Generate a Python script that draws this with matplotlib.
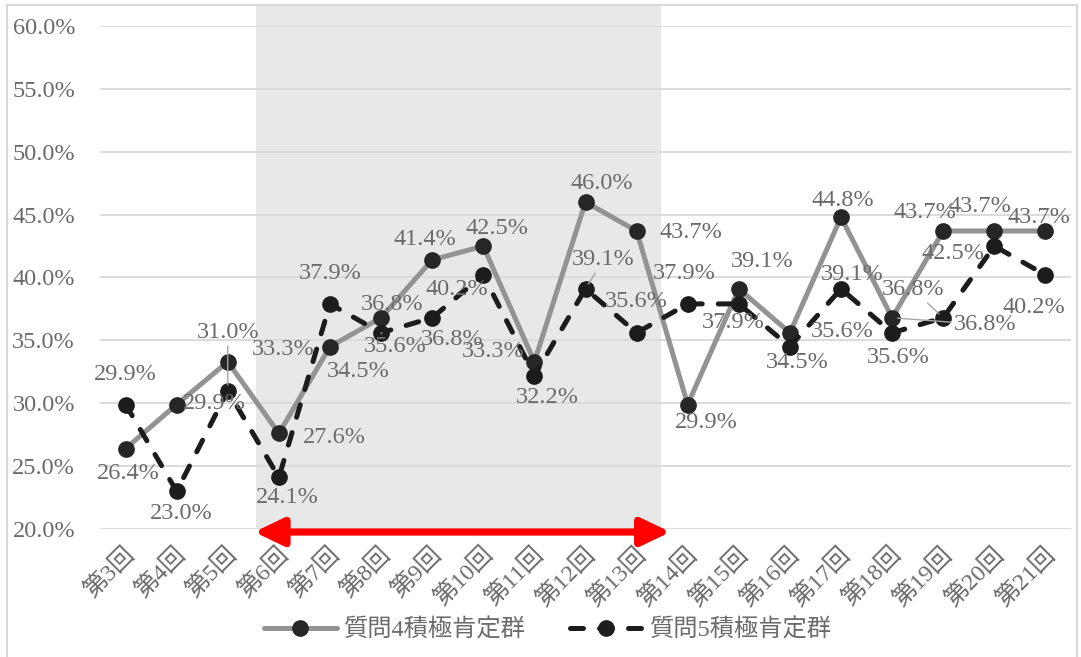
import numpy as np
import matplotlib.pyplot as plt
import matplotlib.transforms as mtransforms
from matplotlib.patches import Rectangle

plt.rcParams['font.family'] = ['Liberation Serif', 'Noto Sans CJK JP']

# Data
rounds = ["第3回", "第4回", "第5回", "第6回", "第7回", "第8回", "第9回",
          "第10回", "第11回", "第12回", "第13回", "第14回", "第15回",
          "第16回", "第17回", "第18回", "第19回", "第20回", "第21回"]
q4 = [26.4, 29.9, 33.3, 27.6, 34.5, 36.8, 41.4, 42.5, 33.3, 46.0,
      43.7, 29.9, 39.1, 35.6, 44.8, 36.8, 43.7, 43.7, 43.7]
q5 = [29.9, 23.0, 31.0, 24.1, 37.9, 35.6, 36.8, 40.2, 32.2, 39.1,
      35.6, 37.9, 37.9, 34.5, 39.1, 35.6, 36.8, 42.5, 40.2]
names = ["質問4積極肯定群", "質問5積極肯定群"]

# label offsets in pixels (dx, dy)
q4_off = [(3, -25), (38, 1), (55, 12), (56, -4), (28, -25), (11, 13),
          (-7, 20), (14, 18), (-41, 10), (16, 19), (54, -2), (19, -18),
          (23, 27), (52, 1), (2, 17), (93, -7), (-18, 18), (-14, 24),
          (-7, 13)]
q5_off = [(0, 30), (5, -22), (0, 58), (8, -20), (0, 30), (14, -14),
          (20, -22), (-26, -15), (13, -22), (18, 29), (0, 31), (-3, 30),
          (-6, -19), (7, -16), (11, 14), (6, -25), (-30, 28), (-41, -7),
          (-12, -33)]
q4_leader = {15}
q5_leader = {2, 5, 9, 16}

TXT = "#6b6b6b"
FS = 17.5
x = np.arange(len(rounds))

fig = plt.figure(figsize=(10.81, 6.57), dpi=100)
ax = fig.add_axes([100 / 1081, 128 / 657, 971 / 1081, 503 / 657])

# shaded period and arrow
trans = mtransforms.blended_transform_factory(ax.transData, ax.transAxes)
ax.add_patch(Rectangle((2.55, 0), 10.48 - 2.55, 524 / 503, transform=trans,
                       facecolor="#e7e8e8", edgecolor="none", zorder=0,
                       clip_on=False))

ax.plot(x, q4, color="#939393", lw=3.6, marker="o", ms=11,
        mfc="#262626", mec="#262626", zorder=3, solid_capstyle="round",
        label=names[0])
ax.plot(x, q5, color="#1c1c1c", lw=3.6, marker="o", ms=11,
        mfc="#1c1c1c", mec="#1c1c1c", zorder=4, dashes=(2.6, 3.2),
        dash_capstyle="round", label=names[1])

def put_labels(vals, offs, leaders):
    for i, (v, (dx, dy)) in enumerate(zip(vals, offs)):
        props = None
        if i in leaders:
            props = dict(arrowstyle="-", color="#a6a6a6", lw=1,
                         shrinkA=0, shrinkB=4)
        ax.annotate(f"{v:.1f}%", (x[i], v), xytext=(dx, dy),
                    textcoords="offset pixels", ha="center", va="center",
                    fontsize=FS, color=TXT, zorder=5, arrowprops=props)

put_labels(q4, q4_off, q4_leader)
put_labels(q5, q5_off, q5_leader)

ax.annotate("", xy=(2.52, 19.76), xytext=(10.66, 19.76),
            arrowprops=dict(arrowstyle="<|-|>,head_length=1.25,head_width=0.6",
                            color="#ff0000", lw=5.2, mutation_scale=14,
                            shrinkA=0, shrinkB=0),
            annotation_clip=False, zorder=6)

ax.set_xlim(-0.5, len(rounds) - 0.5)
ax.set_ylim(20, 60)
ax.set_yticks(np.arange(20, 61, 5))
ax.set_yticklabels([f"{t:.1f}%" for t in np.arange(20, 61, 5)])
ax.set_xticks(x)
ax.set_xticklabels(rounds, rotation=45, ha="right", va="center",
                   rotation_mode="anchor")
ax.tick_params(axis="both", length=0, labelsize=FS, labelcolor=TXT)
ax.tick_params(axis="x", pad=16)
ax.tick_params(axis="y", pad=18)
shift = mtransforms.ScaledTranslation(6 / 100, 0, fig.dpi_scale_trans)
for lab in ax.get_xticklabels():
    lab.set_transform(lab.get_transform() + shift)
ax.grid(axis="y", color="#d9d9d9", lw=1.3)
ax.set_axisbelow(True)
for s in ax.spines.values():
    s.set_visible(False)

fig.legend(loc="center", bbox_to_anchor=(548 / 1081, 27 / 657), ncol=2,
           frameon=False, fontsize=FS, labelcolor=TXT, handlelength=3.0,
           handletextpad=0.3, columnspacing=1.8)

fig.add_artist(Rectangle((7 / 1081, -0.01), 1070 / 1081, 1 - 5 / 657 + 0.01,
                         transform=fig.transFigure, facecolor="none",
                         edgecolor="#d9d9d9", lw=1.5))

fig.savefig("out.png", dpi=100)
